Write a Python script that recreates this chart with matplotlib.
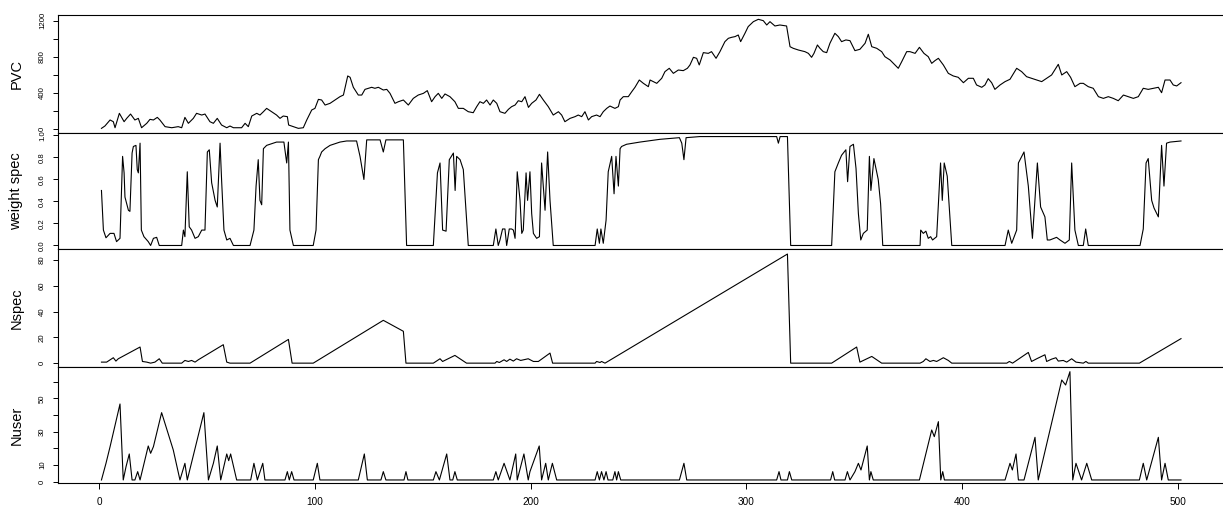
import numpy as np
import matplotlib
matplotlib.use('Agg')
import matplotlib.pyplot as plt

plt.rcParams['font.family'] = ['Liberation Sans', 'DejaVu Sans']

# ---- series (time index, value) ----
pvc_t = [1, 2.6, 5.0, 6.5, 7.3, 9.3, 11.5, 12.7, 14.5, 16.5, 18.1, 19.6, 22.0, 23.5, 25.1, 26.9, 28.1,
         30.5, 33.6, 36.6, 38.2, 39.7, 41.3, 43.6, 45.1, 47.5, 49.0, 51.3, 52.9, 54.7, 56.7, 59.1, 60.6,
         62.2, 66.0, 67.6, 69.1, 70.7, 73.0, 74.5, 76.1, 77.6, 79.9, 82.2, 83.8, 85.3, 87.2, 87.8, 90.0,
         92.3, 94.6, 96.2, 98.5, 100.0, 101.6, 103.1, 104.7, 107.0, 109.3, 111.6, 113.2, 115.2, 116.3,
         117.8, 120.1, 121.7, 123.2, 124.8, 126.3, 127.8, 129.4, 131.7, 133.3, 134.8, 137.1, 138.7,
         141.0, 143.3, 145.6, 147.9, 150.3, 152.1, 154.1, 155.7, 157.2, 158.8, 160.3, 162.6, 164.9,
         166.5, 168.8, 171.1, 173.4, 175.0, 176.5, 178.1, 179.6, 181.2, 182.7, 184.3, 185.8, 188.1,
         189.7, 191.2, 192.8, 194.3, 195.9, 197.4, 199.0, 200.5, 202.5, 204.1, 205.9, 208.2, 210.5,
         212.9, 214.4, 215.9, 218.3, 220.6, 222.1, 223.7, 225.2, 226.8, 228.3, 230.6, 232.2, 233.7,
         235.3, 236.8, 239.1, 240.7, 241.5, 243.0, 245.3, 246.9, 248.4, 250.4, 252.3, 254.6, 255.4,
         256.9, 258.5, 260.8, 262.3, 264.3, 266.2, 268.5, 270.8, 272.7, 273.9, 275.5, 277.0, 278.2,
         280.1, 282.4, 283.9, 286.0, 287.8, 290.1, 291.7, 293.2, 294.8, 296.3, 297.4, 299.4, 300.9,
         303.3, 305.6, 307.9, 309.5, 311.0, 313.3, 315.6, 318.7, 320.3, 321.8, 324.2,
         327.2, 328.8, 330.3, 331.4, 333.0, 334.2, 335.7, 337.3, 338.8, 341.1, 342.7, 344.2, 346.2,
         348.1, 350.4, 352.7, 355.1, 356.6, 358.2, 360.5, 362.8, 364.3, 366.7, 369.0, 370.5, 372.1,
         374.4, 375.9, 378.3, 380.3, 382.4, 384.4, 386.0, 387.5, 389.1, 391.4, 393.7, 396.0, 398.3,
         400.7, 403.0, 405.3, 406.8, 409.2, 410.7, 412.2, 413.8, 415.3, 417.7, 420.0, 422.3, 425.4,
         427.7, 430.0, 432.3, 434.7, 437.0, 439.3, 441.6, 444.7, 446.3, 448.6, 450.4, 452.4, 454.8,
         456.3, 458.6, 460.9, 463.3, 465.6, 467.9, 470.2, 472.5, 474.9, 477.2, 479.5, 481.8, 484.1,
         486.4, 488.8, 491.1, 492.6, 494.2, 496.5, 498.0, 499.6, 501.6]
pvc = [4, 30, 97, 78, 11, 171, 78, 115, 163, 97, 115, 11, 60, 104, 97, 126, 97,
       23, 11, 23, 11, 126, 60, 115, 171, 152, 163, 78, 60, 115, 41, 11, 30,
       11, 11, 60, 23, 141, 171, 152, 189, 226, 189, 152, 115, 141, 134, 41, 23,
       4, 11, 97, 208, 226, 326, 319, 263, 282, 319, 356, 374, 586, 571,
       460, 374, 374, 437, 449, 460, 449, 460, 430, 437, 393, 282, 300,
       319, 263, 337, 374, 393, 423, 300, 356, 393, 337, 386, 356, 300,
       226, 226, 189, 178, 245, 300, 282, 319, 263, 319, 282, 189, 171,
       215, 245, 263, 311, 300, 356, 237, 282, 319, 382, 319, 245, 152,
       189, 152, 78, 115, 134, 152, 134, 189, 97, 134, 152, 134, 189,
       226, 252, 226, 245, 319, 356, 356, 411, 460, 541, 504, 467, 541,
       523, 504, 560, 634, 671, 615, 652, 645, 671, 708, 793, 782, 708,
       845, 837, 856, 782, 856, 967, 1004, 1015, 1023, 1041, 967, 1060, 1134,
       1189, 1215, 1200, 1152, 1189, 1141, 1152, 1141, 911, 893, 874,
       856, 837, 793, 837, 930, 893, 856, 845, 949, 1060, 1023, 967, 986,
       978, 867, 882, 949, 1049, 911, 893, 856, 800, 763, 708, 671, 745,
       856, 856, 837, 904, 837, 800, 726, 756, 782, 708, 615, 586, 571,
       511, 560, 560, 486, 460, 486, 556, 511, 437, 486, 523, 549, 671,
       634, 578, 560, 541, 523, 560, 597, 715, 597, 634, 571, 467, 504,
       504, 467, 449, 356, 337, 356, 337, 311, 374, 356, 337, 356, 449,
       437, 449, 460, 400, 541, 541, 486, 475, 511]

weight_t = [1, 1.9, 3.1, 5.0, 6.8, 8.0, 9.6, 10.8, 11.5, 11.9, 13.5, 14.2, 15.2, 15.8, 17.0, 17.6, 18.1,
            18.9, 19.5, 20.7, 22.7, 23.8, 25.1, 26.6, 27.8, 38.2, 39.0, 39.7, 40.8, 41.7, 42.8, 44.4,
            45.9, 47.5, 49.0, 50.1, 51.0, 52.1, 53.7, 54.7, 56.0, 56.7, 57.8, 59.1, 60.6, 62.2, 69.9,
            71.7, 72.7, 73.7, 74.5, 75.3, 76.1, 77.6, 82.2, 85.6, 86.9, 87.7, 88.4, 90.0, 99.2, 100.5,
            101.6, 102.3, 103.1, 104.7, 107.0, 108.5, 111.6, 114.7, 119.3, 120.9, 122.7, 124.0, 130.2,
            131.7, 132.9, 141.0, 142.5, 154.9, 156.8, 158.0, 159.2, 160.8, 162.3, 164.2, 165.0, 165.7,
            167.3, 168.8, 171.1, 182.7, 183.9, 185.0, 185.8, 187.0, 188.1, 188.9, 190.1, 191.2, 192.0,
            192.8, 193.8, 195.1, 195.9, 196.6, 197.9, 198.6, 199.7, 200.5, 201.3, 202.8, 204.1, 205.1,
            206.7, 207.9, 209.0, 210.5, 229.9, 230.9, 231.9, 232.6, 233.7, 235.0, 236.0, 237.6, 238.7,
            239.6, 240.7, 241.5, 242.2, 244.5, 250.7, 260.0, 269.0, 270.1, 271.1, 272.1, 278.5, 305.6,
            314.1, 314.9, 315.7, 319.1, 320.6, 339.6, 341.1, 342.7, 344.2, 346.2, 347.0, 348.1, 349.7,
            350.9, 352.0, 353.1, 354.3, 356.1, 357.1, 357.8, 359.2, 361.2, 362.3, 363.3, 380.6, 380.9,
            382.1, 383.3, 384.4, 385.5, 386.4, 388.3, 390.1, 390.9, 391.8, 393.2, 395.3, 420.0, 421.5,
            423.1, 425.4, 426.2, 428.8, 430.8, 432.7, 435.0, 436.5, 438.5, 439.6, 440.8, 443.9, 445.5,
            447.8, 449.8, 450.9, 452.4, 454.0, 456.3, 457.4, 458.6, 482.6, 484.1, 485.4, 486.4, 488.0,
            489.1, 491.1, 492.6, 493.7, 494.9, 496.5, 501.6]
weight = [0.50, 0.14, 0.07, 0.11, 0.11, 0.035, 0.065, 0.81, 0.66, 0.44, 0.32, 0.31, 0.84, 0.90, 0.91, 0.69, 0.66,
          0.93, 0.14, 0.08, 0.035, 0.0, 0.065, 0.074, 0.0, 0.0, 0.14, 0.08, 0.67, 0.17, 0.14, 0.065,
          0.08, 0.14, 0.14, 0.85, 0.87, 0.57, 0.41, 0.35, 0.93, 0.60, 0.14, 0.05, 0.065, 0.0, 0.0,
          0.14, 0.54, 0.78, 0.41, 0.37, 0.88, 0.91, 0.94, 0.94, 0.75, 0.94, 0.14, 0.0, 0.0, 0.14,
          0.78, 0.81, 0.85, 0.88, 0.91, 0.92, 0.94, 0.95, 0.95, 0.81, 0.60, 0.96, 0.96,
          0.85, 0.96, 0.96, 0.0, 0.0, 0.66, 0.75, 0.14, 0.13, 0.78, 0.84, 0.50, 0.81,
          0.78, 0.69, 0.0, 0.0, 0.15, 0.0, 0.05, 0.15, 0.15, 0.0, 0.15, 0.15, 0.14,
          0.065, 0.67, 0.41, 0.11, 0.14, 0.66, 0.41, 0.67, 0.29, 0.11, 0.065, 0.08, 0.75,
          0.32, 0.85, 0.41, 0.0, 0.0, 0.15, 0.02, 0.15, 0.02, 0.23, 0.67, 0.81, 0.47,
          0.81, 0.54, 0.88, 0.90, 0.92, 0.94, 0.965, 0.98, 0.93, 0.78, 0.98, 0.99, 0.99,
          0.99, 0.93, 0.99, 0.99, 0.0, 0.0, 0.67, 0.75, 0.82, 0.87, 0.58, 0.90, 0.92,
          0.70, 0.29, 0.05, 0.11, 0.14, 0.81, 0.50, 0.79, 0.60, 0.38, 0.0, 0.0, 0.14,
          0.11, 0.13, 0.065, 0.08, 0.05, 0.08, 0.75, 0.41, 0.75, 0.63, 0.0, 0.0, 0.14,
          0.02, 0.14, 0.75, 0.85, 0.54, 0.065, 0.75, 0.35, 0.26, 0.05, 0.05, 0.074, 0.05,
          0.02, 0.05, 0.75, 0.14, 0.0, 0.0, 0.15, 0.0, 0.0, 0.15, 0.75, 0.79, 0.41,
          0.34, 0.26, 0.91, 0.54, 0.93, 0.94, 0.95]

nspec_t = [1, 3.4, 6.5, 7.7, 8.8, 18.9, 20.0, 22.0, 23.8, 25.8, 27.8, 29.2, 38.2, 39.7, 41.3, 42.8,
           44.4, 45.9, 57.5, 59.1, 60.6, 69.9, 87.7, 89.4, 99.2, 131.7, 141.0, 142.2, 154.9, 158.0,
           159.2, 164.9, 170.3, 183.5, 184.3, 185.5, 187.7, 188.9, 190.4, 192.0, 193.5, 195.4, 198.9,
           201.3, 203.6, 209.0, 210.2, 229.9, 230.6, 232.2, 232.9, 234.5, 319.1, 320.6, 339.6, 351.2,
           352.7, 358.2, 362.8, 380.6, 382.1, 383.3, 385.2, 386.8, 388.3, 391.4, 393.7, 395.3, 420.8,
           422.0, 423.5, 430.8, 432.3, 434.7, 438.5, 439.3, 441.6, 443.6, 444.7, 447.0, 448.6, 450.9,
           452.9, 456.3, 457.5, 458.6, 482.3, 501.6]
nspec = [0.8, 0.8, 4.2, 1.6, 3.4, 12.5, 1.3, 0.8, 0, 0.8, 3.4, 0, 0, 2.1, 1.3, 2.1,
         0.8, 2.6, 14.3, 0.8, 0, 0, 18.4, 0, 0, 33.2, 24.7, 0, 0, 3.4,
         1.3, 6.0, 0, 0, 1.3, 0.5, 2.6, 1.3, 3.1, 1.6, 3.4, 2.1, 3.4,
         1.3, 1.3, 7.8, 0, 0, 1.3, 0.5, 1.3, 0, 84.6, 0, 0, 12.5,
         0.8, 5.2, 0, 0, 1.3, 3.4, 1.3, 2.1, 1.3, 4.2, 2.1, 0, 0,
         1.3, 0, 8.3, 1.3, 3.4, 6.5, 1.3, 3.1, 4.2, 1.6, 2.1, 0.8, 3.4,
         0.8, 0, 1.3, 0, 0, 19.0]

nuser_t = [1, 3.1, 5.0, 9.6, 11.1, 12.4, 13.9, 15.2, 16.5, 17.8, 18.9, 22.7, 23.8, 25.1, 28.9, 34.3,
           37.4, 39.7, 40.8, 48.5, 50.6, 52.9, 54.7, 56.3, 59.1, 60.0, 60.9, 63.7, 70.2, 71.7, 73.3,
           75.8, 76.8, 86.1, 87.2, 88.1, 89.2, 90.3, 99.2, 101.1, 102.3, 120.1, 122.9, 124.3, 130.6,
           131.7, 132.9, 141.3, 142.2, 143.1, 154.9, 156.1, 157.7, 161.1, 162.6, 163.9, 164.9, 166.0,
           182.7, 183.9, 185.0, 187.7, 190.4, 193.1, 193.8, 196.9, 198.9, 199.7, 204.0, 205.1, 207.0,
           208.2, 210.1, 212.1, 229.9, 230.9, 231.9, 232.9, 234.0, 235.0, 235.9, 238.1, 239.1, 239.9,
           240.7, 241.8, 269.0, 271.1, 272.4, 314.1, 315.2, 316.1, 319.1, 320.0, 321.1, 339.1, 340.1,
           341.0, 345.8, 346.9, 348.1, 350.4, 352.0, 353.2, 356.1, 357.1, 357.8, 358.9, 380.3, 386.0,
           387.2, 389.1, 390.2, 391.1, 391.9, 420.0, 422.3, 423.4, 425.1, 426.2, 428.8, 433.9, 435.4,
           446.3, 448.1, 450.1, 451.4, 452.9, 455.5, 457.9, 460.2, 482.3, 484.1, 485.7, 491.1, 492.6,
           494.2, 495.7, 501.6]
nuser = [1, 11, 21, 46.6, 1, 9, 16.6, 1, 1, 6, 1, 21.4, 17, 21, 41.4, 19,
         1, 11, 1, 41.4, 1, 11, 21.4, 1, 16.6, 12.6, 16.6, 1, 1, 11, 1,
         11, 1, 1, 6, 1, 6, 1, 1, 11, 1, 1, 16.6, 1, 1,
         6, 1, 1, 6, 1, 1, 6, 1, 16.6, 1, 1, 6, 1,
         1, 6, 1, 11, 1, 16.6, 1, 16.6, 1, 6, 21.4, 1, 11,
         1, 11, 1, 1, 6, 1, 6, 1, 6, 1, 1, 6, 1,
         6, 1, 1, 11, 1, 1, 6, 1, 1, 6, 1, 1, 6,
         1, 1, 6, 1, 6, 11, 7, 21.4, 1, 6, 1, 1, 31,
         27, 36, 1, 6, 1, 1, 11, 7, 16.6, 1, 1, 26.6, 1,
         61, 58, 66, 1, 11, 1, 11, 1, 1, 11, 1, 26.6, 1,
         11, 1, 1]

x_ticks = [0, 100, 200, 300, 400, 500]

panels = [
    ('PVC', pvc_t, pvc, (-42, 1263), [0, 200, 400, 600, 800, 1000, 1200],
     ['0', '', '400', '', '800', '', '1200']),
    ('weight spec', weight_t, weight, (-0.032, 1.027), [0, 0.2, 0.4, 0.6, 0.8, 1.0],
     ['0.0', '0.2', '0.4', '0.6', '0.8', '1.0']),
    ('Nspec', nspec_t, nspec, (-2.6, 88.5), [0, 20, 40, 60, 80],
     ['0', '20', '40', '60', '80']),
    ('Nuser', nuser_t, nuser, (-1.0, 69.1), [0, 10, 20, 30, 40, 50, 60],
     ['0', '10', '', '30', '', '50', '']),
]

W, H = 1223, 509
left_px, right_px = 58, 1224
edges = [15, 132.5, 249, 366.5, 483.3]
x0_px, px_per_unit = 99.3, 2.1565

fig = plt.figure(figsize=(W / 100, H / 100), dpi=100)
for i, (name, t, v, ylim, yt, ytl) in enumerate(panels):
    top, bot = edges[i], edges[i + 1]
    ax = fig.add_axes([left_px / W, 1 - bot / H, (right_px - left_px) / W, (bot - top) / H])
    ax.plot(t, v, color='black', lw=0.8)
    ax.set_xlim((left_px - x0_px) / px_per_unit, (right_px - x0_px) / px_per_unit)
    ax.set_ylim(*ylim)
    ax.set_yticks(yt)
    ax.set_yticklabels(ytl)
    ax.tick_params(axis='y', direction='out', length=3.6, width=0.7, pad=5, labelsize=5.6)
    plt.setp(ax.get_yticklabels(), rotation=90, va='center')
    ax.set_ylabel(name, fontsize=10.5, va='center')
    ax.yaxis.set_label_coords((16.5 - left_px) / (right_px - left_px), 0.5)
    for s in ax.spines.values():
        s.set_linewidth(0.8)
    if i < 3:
        ax.tick_params(axis='x', bottom=False, labelbottom=False)
    else:
        ax.set_xticks(x_ticks)
        ax.tick_params(axis='x', direction='out', length=4.5, width=0.7, pad=5.5, labelsize=7.2)

fig.savefig('out.png', dpi=100)
